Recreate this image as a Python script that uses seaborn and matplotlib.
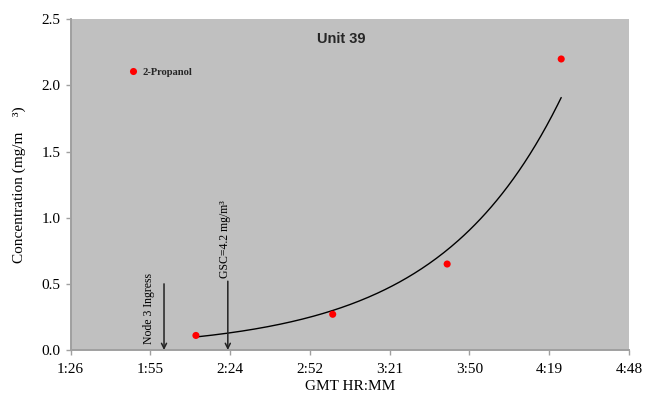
import numpy as np
import pandas as pd
import matplotlib
matplotlib.use("Agg")
import matplotlib.pyplot as plt
import seaborn as sns
from matplotlib.ticker import FixedLocator, FixedFormatter

# ---- data (times as Excel day fractions) ----
sample_days = [0.0914, 0.1257, 0.1544, 0.1830]
concentration = [0.11, 0.27, 0.65, 2.20]
series_name = "2-Propanol"
chart_title = "Unit 39"
event_days = [0.0834, 0.0994]
event_labels = ["Node 3 Ingress", "GSC=4.2 mg/m\u00b3"]
x_tick_days = [0.06, 0.08, 0.10, 0.12, 0.14, 0.16, 0.18, 0.20]
x_tick_labels = ["1:26", "1:55", "2:24", "2:52", "3:21", "3:50", "4:19", "4:48"]
y_ticks = [0.0, 0.5, 1.0, 1.5, 2.0, 2.5]
y_tick_labels = ["0.0", "0.5", "1.0", "1.5", "2.0", "2.5"]

df = pd.DataFrame({"t": sample_days, "c": concentration, "s": series_name})

# exponential trendline (fit of ln c vs t)
b, a = np.polyfit(df["t"], np.log(df["c"]), 1)
tt = np.linspace(df["t"].min(), df["t"].max(), 200)
trend = pd.DataFrame({"t": tt, "c": np.exp(a + b * tt)})

sns.set_theme(style="white")
serif = ["Liberation Serif", "DejaVu Serif"]
plt.rcParams["font.family"] = serif

fig = plt.figure(figsize=(6.46, 3.99), dpi=100)
W, H = 646, 399
ax = fig.add_axes([70.7 / W, 1 - 350 / H, (629 - 70.7) / W, (350 - 19.3) / H])
ax.set_facecolor("#c0c0c0")

sns.lineplot(data=trend, x="t", y="c", color="black", lw=1.0, ax=ax, legend=False)
sns.scatterplot(data=df, x="t", y="c", hue="s", palette=["#ff0000"], s=26,
                edgecolor="none", ax=ax, zorder=5)

ax.set_xlim(x_tick_days[0], x_tick_days[-1])
ax.set_ylim(y_ticks[0], y_ticks[-1])
ax.xaxis.set_major_locator(FixedLocator(x_tick_days))
ax.xaxis.set_major_formatter(FixedFormatter(x_tick_labels))
ax.yaxis.set_major_locator(FixedLocator(y_ticks))
ax.yaxis.set_major_formatter(FixedFormatter(y_tick_labels))

for sp in ["top", "right"]:
    ax.spines[sp].set_visible(False)
for sp in ["left", "bottom"]:
    ax.spines[sp].set_color("#a0a0a0")
    ax.spines[sp].set_linewidth(1.4)
ax.tick_params(axis="both", which="major", direction="out", length=3.5, width=1.0,
               color="#a0a0a0", labelsize=11, labelcolor="black", pad=4,
               bottom=True, left=True)
ax.tick_params(axis="x", pad=6)

ax.set_xlabel("GMT HR:MM", fontsize=11, color="black")
ax.set_ylabel("Concentration (mg/m    \u00b3)", fontsize=11, color="black")
ax.xaxis.label.set_va("center")
ax.yaxis.label.set_va("center")
ax.xaxis.set_label_coords(0.5, -(386 - 350) / (350 - 19.3))
ax.yaxis.set_label_coords(-(70.7 - 19) / (629 - 70.7), 0.5)

ax.text(0.4854, 0.94, chart_title, transform=ax.transAxes, ha="center", va="center",
        fontsize=10.5, fontweight="bold", family=["Liberation Sans", "DejaVu Sans"])

# event arrows with vertical labels
px_per_day = (629 - 70.7) / (x_tick_days[-1] - x_tick_days[0])
text_dx = [-15 / px_per_day, -2.7 / px_per_day]
text_y = [0.045, 0.546]
arrow_top = [0.50, 0.52]
for d, lab, dx, ty, at in zip(event_days, event_labels, text_dx, text_y, arrow_top):
    ax.annotate("", xy=(d, 0.0), xytext=(d, at),
                arrowprops=dict(arrowstyle="->", color="#222222", lw=1.1,
                                mutation_scale=9, shrinkA=0, shrinkB=0))
    ax.text(d + dx, ty, lab, rotation=90, ha="center", va="bottom", fontsize=8.5,
            color="black")

leg = ax.legend(loc="center left", bbox_to_anchor=((128.6 - 70.7) / (629 - 70.7), (350 - 72.3) / (350 - 19.3)),
                frameon=False, fontsize=7.6, handlelength=0.75, handletextpad=0.55,
                borderpad=0, borderaxespad=0, markerscale=1.0)
for t in leg.get_texts():
    t.set_fontweight("bold")

fig.savefig("out.png", dpi=100)
